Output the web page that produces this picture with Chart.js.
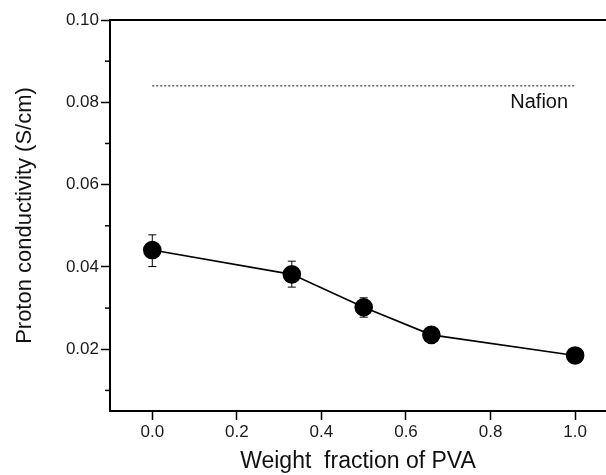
<!DOCTYPE html>
<html>
<head>
<meta charset="utf-8">
<script src="https://cdn.jsdelivr.net/npm/chart.js@4/dist/chart.umd.min.js"></script>
<style>
  html, body { margin: 0; padding: 0; background: #fff; overflow: hidden; }
  #wrap { width: 606px; height: 475px; }
</style>
</head>
<body>
<div id="wrap"><canvas id="chart1" width="606" height="475"></canvas></div>
<script>
// data
const pvaFraction = [0.0, 0.33, 0.5, 0.66, 1.0];
const conductivity = [0.0441, 0.0382, 0.0302, 0.0235, 0.0185];
const errLow = [0.0401, 0.0351, 0.0278, 0.0225, 0.0180];
const errHigh = [0.0478, 0.0414, 0.0325, 0.0245, 0.0190];

const nafionX = [0.0, 1.0];
const nafionY = [0.084, 0.084];

const xTicks = [0.0, 0.2, 0.4, 0.6, 0.8, 1.0];
const yTicks = [0.02, 0.04, 0.06, 0.08, 0.10];
const yMinorTicks = [0.01, 0.03, 0.05, 0.07, 0.09];

const fontFam = '"Liberation Sans", Arial, sans-serif';

// top border, minor ticks, error bars, Nafion label
const extras = {
  id: 'extras',
  afterDatasetsDraw(chart) {
    const ctx = chart.ctx;
    const xs = chart.scales.x;
    const ys = chart.scales.y;
    const area = chart.chartArea;
    ctx.save();
    ctx.strokeStyle = '#000';

    // top frame line
    ctx.lineWidth = 2;
    ctx.beginPath();
    ctx.moveTo(area.left, area.top);
    ctx.lineTo(area.right, area.top);
    ctx.stroke();

    // minor ticks on y
    ctx.lineWidth = 1.5;
    yMinorTicks.forEach(v => {
      const py = ys.getPixelForValue(v);
      ctx.beginPath();
      ctx.moveTo(area.left - 5, py);
      ctx.lineTo(area.left, py);
      ctx.stroke();
    });

    // error bars
    ctx.lineWidth = 1;
    pvaFraction.forEach((x, i) => {
      const px = xs.getPixelForValue(x);
      const pLo = ys.getPixelForValue(errLow[i]);
      const pHi = ys.getPixelForValue(errHigh[i]);
      ctx.beginPath();
      ctx.moveTo(px, pLo);
      ctx.lineTo(px, pHi);
      ctx.moveTo(px - 4, pLo);
      ctx.lineTo(px + 4, pLo);
      ctx.moveTo(px - 4, pHi);
      ctx.lineTo(px + 4, pHi);
      ctx.stroke();
    });

    // Nafion label
    ctx.fillStyle = '#111';
    ctx.font = '20px ' + fontFam;
    ctx.textAlign = 'center';
    ctx.textBaseline = 'middle';
    ctx.fillText('Nafion', xs.getPixelForValue(0.915), ys.getPixelForValue(0.0799));
    ctx.restore();
  }
};

const ctx = document.getElementById('chart1').getContext('2d');
new Chart(ctx, {
  type: 'line',
  data: {
    datasets: [
      {
        label: 'Nafion',
        data: nafionX.map((x, i) => ({ x: x, y: nafionY[i] })),
        borderColor: '#111',
        borderWidth: 1,
        borderDash: [2, 2],
        pointRadius: 0,
        fill: false,
      },
      {
        label: 'PVA blend',
        data: pvaFraction.map((x, i) => ({ x: x, y: conductivity[i] })),
        borderColor: '#000',
        borderWidth: 1.6,
        pointRadius: 8.5,
        pointBackgroundColor: '#000',
        pointBorderColor: '#000',
        fill: false,
        tension: 0,
      },
    ],
  },
  options: {
    responsive: false,
    animation: false,
    layout: { autoPadding: false, padding: { top: 20, left: 0, right: 0, bottom: 0 } },
    plugins: {
      legend: { display: false },
      tooltip: { enabled: false },
    },
    scales: {
      x: {
        type: 'linear',
        min: -0.1,
        max: 1.073,
        afterBuildTicks: (s) => { s.ticks = xTicks.map(v => ({ value: v })); },
        afterFit: (s) => { s.height = 64; s.paddingRight = 0; s.paddingLeft = 0; },
        border: { color: '#000', width: 2 },
        grid: { drawOnChartArea: false, tickLength: 9, tickColor: '#000', tickWidth: 1.5 },
        ticks: {
          color: '#1a1a1a',
          font: { family: fontFam, size: 17 },
          padding: 2,
          maxRotation: 0,
          callback: (v) => Number(v).toFixed(1),
        },
        title: {
          display: true,
          text: 'Weight  fraction of PVA',
          color: '#111',
          font: { family: fontFam, size: 23 },
          padding: { top: 0, bottom: 0 },
        },
      },
      y: {
        type: 'linear',
        min: 0.005,
        max: 0.10,
        afterBuildTicks: (s) => { s.ticks = yTicks.map(v => ({ value: v })); },
        afterFit: (s) => { s.width = 110; },
        border: { color: '#000', width: 2 },
        grid: { drawOnChartArea: false, tickLength: 9, tickColor: '#000', tickWidth: 1.5 },
        ticks: {
          color: '#1a1a1a',
          font: { family: fontFam, size: 17 },
          padding: 2,
          callback: (v) => Number(v).toFixed(2),
        },
        title: {
          display: true,
          text: 'Proton conductivity (S/cm)',
          color: '#111',
          font: { family: fontFam, size: 22 },
          padding: { top: 12, bottom: 0 },
        },
      },
    },
  },
  plugins: [extras],
});
</script>
</body>
</html>
